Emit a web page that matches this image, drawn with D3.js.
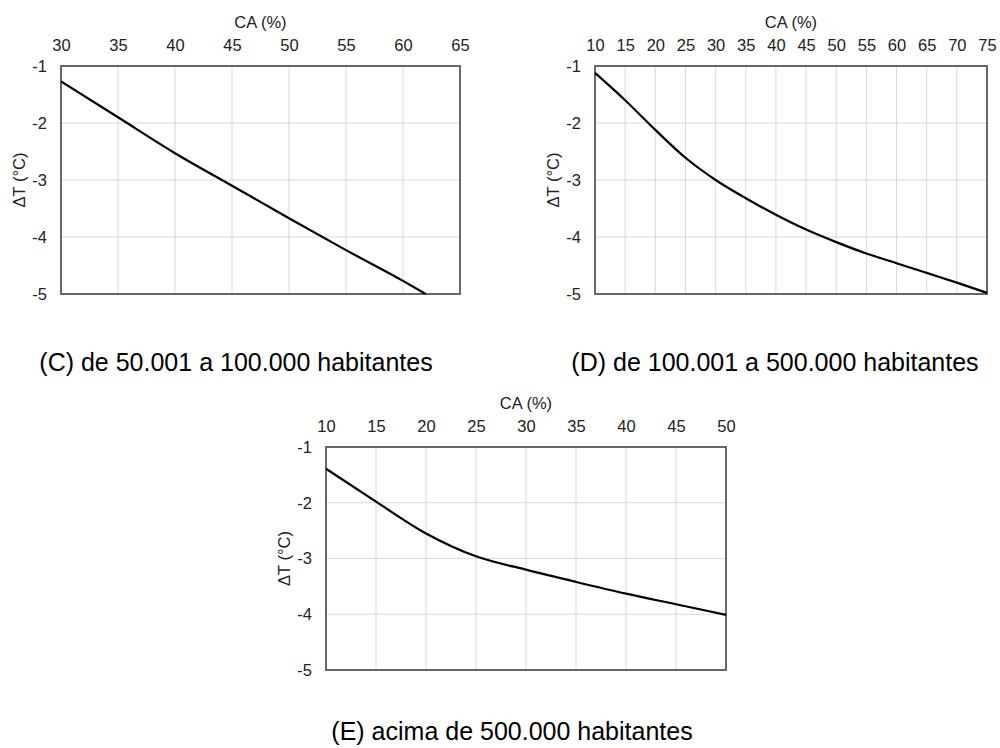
<!DOCTYPE html>
<html>
<head>
<meta charset="utf-8">
<title>CA x ΔT</title>
<script src="https://cdn.jsdelivr.net/npm/d3@7"></script>
<style>
    body { margin: 0; background: #fff; }
    svg { display: block; font-family: "Liberation Sans", Arial, sans-serif; }
</style>
</head>
<body>
<div id="chartdiv"></div>
<script>
/*global d3 */
/*jslint browser, multivar, white, fudge, for */

////////////////////////////////////////
// data
////////////////////////////////////////

var caC = [30, 35, 40, 45, 50, 55, 60, 62],
    dtC = [-1.27, -1.90, -2.53, -3.10, -3.67, -4.23, -4.77, -5.0],
    caD = [10, 15, 20, 25, 30, 35, 40, 45, 50, 55, 60, 65, 70, 75],
    dtD = [-1.12, -1.60, -2.12, -2.61, -3.00, -3.32, -3.61, -3.87,
           -4.09, -4.29, -4.46, -4.63, -4.80, -4.98],
    caE = [10, 15, 20, 25, 30, 35, 40, 45, 50],
    dtE = [-1.39, -1.98, -2.55, -2.96, -3.20, -3.42, -3.63, -3.82, -4.01],
    xTicksC = [30, 35, 40, 45, 50, 55, 60, 65],
    xTicksD = [10, 15, 20, 25, 30, 35, 40, 45, 50, 55, 60, 65, 70, 75],
    xTicksE = [10, 15, 20, 25, 30, 35, 40, 45, 50],
    yTicks = [-1, -2, -3, -4, -5],
    captions = ["(C) de 50.001 a 100.000 habitantes",
                "(D) de 100.001 a 500.000 habitantes",
                "(E) acima de 500.000 habitantes"];

var chart = (function () {
    "use strict";

    var svg = d3.select("#chartdiv").append("svg")
            .attr("width", 1000).attr("height", 748),
        font = "Liberation Sans, Arial, sans-serif",
        txtc = "#222",

    styleTicks = function (a) {
        a.select(".domain").remove();
        a.selectAll("text").attr("font-size", 16.5)
            .attr("fill", txtc).attr("font-family", font);
    },

    drawPanel = function (p) {
        var x = d3.scaleLinear()
                .domain([p.xt[0], p.xt[p.xt.length - 1]])
                .range([p.left, p.right]),
            y = d3.scaleLinear().domain([-1, -5]).range([p.top, p.bottom]),
            g = svg.append("g"),
            pts = p.xs.map(function (v, i) { return [v, p.ys[i]]; });

        //grid
        g.append("g").selectAll("line").data(p.xt).join("line")
            .attr("x1", x).attr("x2", x)
            .attr("y1", p.top).attr("y2", p.bottom)
            .attr("stroke", "#d9d9d9").attr("stroke-width", 1);
        g.append("g").selectAll("line").data(yTicks).join("line")
            .attr("x1", p.left).attr("x2", p.right)
            .attr("y1", y).attr("y2", y)
            .attr("stroke", "#d9d9d9").attr("stroke-width", 1);

        //axes, ticks only as text (plain hyphen for the minus)
        g.append("g").attr("transform", "translate(0," + (p.top - 15) + ")")
            .call(d3.axisTop(x).tickValues(p.xt).tickSize(0).tickPadding(0))
            .call(styleTicks);
        g.append("g").attr("transform", "translate(" + (p.left - 14) + ",0)")
            .call(d3.axisLeft(y).tickValues(yTicks).tickSize(0).tickPadding(0)
                  .tickFormat(function (d) { return String(d); }))
            .call(styleTicks);

        //axis titles
        g.append("text")
            .attr("x", (p.left + p.right) / 2).attr("y", p.top - 38)
            .attr("text-anchor", "middle").attr("font-size", 16.5)
            .attr("fill", txtc).text("CA (%)");
        g.append("text")
            .attr("transform", "translate(" + (p.left - 36) + "," +
                  ((p.top + p.bottom) / 2) + ") rotate(-90)")
            .attr("text-anchor", "middle").attr("font-size", 16.5)
            .attr("fill", txtc).text("ΔT (°C)");

        //frame
        g.append("rect")
            .attr("x", p.left).attr("y", p.top)
            .attr("width", p.right - p.left).attr("height", p.bottom - p.top)
            .attr("fill", "none").attr("stroke", "#595959")
            .attr("stroke-width", 1.8);

        //curve
        g.append("path").datum(pts)
            .attr("fill", "none").attr("stroke", "#000")
            .attr("stroke-width", 2.2)
            .attr("d", d3.line()
                  .x(function (d) { return x(d[0]); })
                  .y(function (d) { return y(d[1]); })
                  .curve(d3.curveMonotoneX));

        //caption
        svg.append("text")
            .attr("x", p.capx).attr("y", p.capy)
            .attr("text-anchor", "middle").attr("font-size", 25)
            .attr("fill", "#000").text(p.caption);
    };

return {
    run: function () {
        drawPanel({xs: caC, ys: dtC, xt: xTicksC, caption: captions[0],
                   left: 61, right: 460, top: 66, bottom: 294,
                   capx: 236, capy: 371});
        drawPanel({xs: caD, ys: dtD, xt: xTicksD, caption: captions[1],
                   left: 595, right: 987, top: 66, bottom: 294,
                   capx: 775, capy: 371});
        drawPanel({xs: caE, ys: dtE, xt: xTicksE, caption: captions[2],
                   left: 326, right: 726, top: 447, bottom: 670,
                   capx: 512, capy: 740});
    }
};
}());

chart.run();
</script>
</body>
</html>
